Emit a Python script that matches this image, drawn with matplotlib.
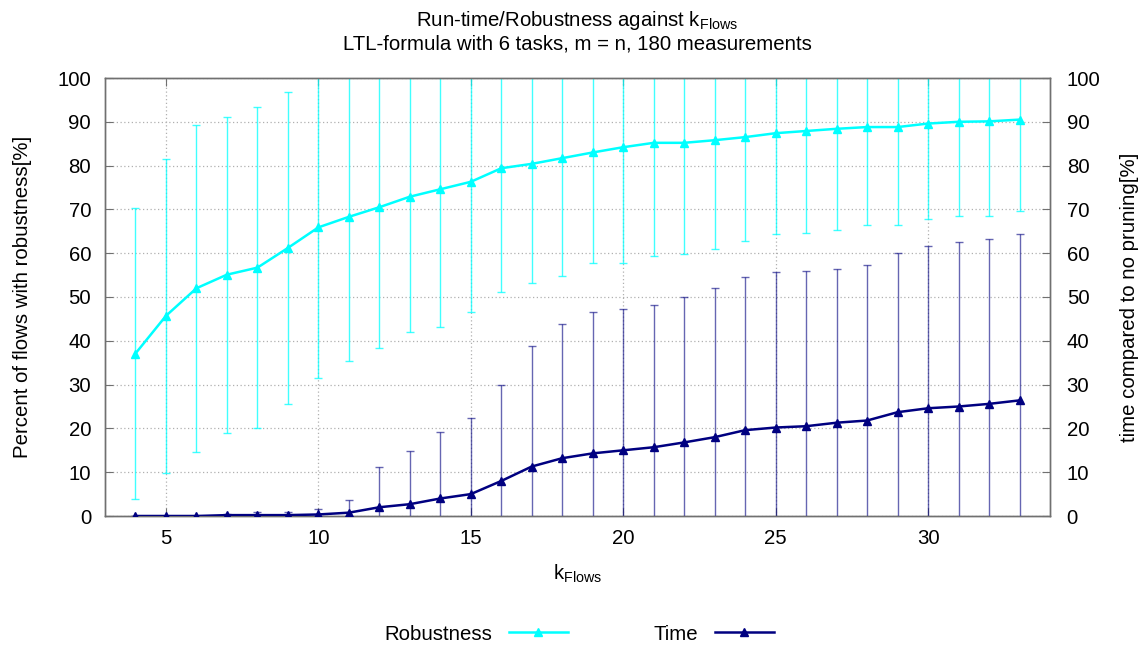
import numpy as np
import matplotlib
matplotlib.use("Agg")
import matplotlib.pyplot as plt

plt.rcParams["font.family"] = ["Liberation Sans", "DejaVu Sans"]
plt.rcParams["mathtext.fontset"] = "custom"
plt.rcParams["mathtext.rm"] = "Liberation Sans"
plt.rcParams["mathtext.it"] = "Liberation Sans:italic"

k_flows = list(range(4, 34))

robustness_mean = [37.1, 45.7, 52.0, 55.1, 56.7, 61.2, 65.9, 68.3, 70.5, 72.9,
                   74.6, 76.3, 79.4, 80.4, 81.7, 83.0, 84.2, 85.2, 85.2, 85.8,
                   86.5, 87.4, 87.9, 88.4, 88.8, 88.8, 89.6, 90.0, 90.1, 90.5]
robustness_std = [33.3, 35.8, 37.3, 36.1, 36.6, 35.6, 34.5, 32.9, 32.1, 31.0,
                  31.5, 29.8, 28.3, 27.3, 27.0, 25.3, 26.5, 25.8, 25.4, 24.9,
                  23.8, 23.0, 23.3, 23.2, 22.4, 22.4, 21.7, 21.5, 21.5, 20.8]

time_mean = [0.0, 0.0, 0.0, 0.2, 0.2, 0.2, 0.35, 0.76, 2.0, 2.7,
             4.0, 5.0, 8.0, 11.3, 13.2, 14.3, 15.0, 15.7, 16.8, 18.0,
             19.6, 20.2, 20.5, 21.3, 21.8, 23.7, 24.6, 25.0, 25.6, 26.4]
time_std = [0.1, 0.1, 0.1, 0.3, 0.6, 0.8, 1.2, 3.0, 9.3, 12.1,
            15.1, 17.3, 21.9, 27.6, 30.6, 32.2, 32.2, 32.5, 33.2, 34.0,
            35.0, 35.4, 35.4, 35.2, 35.5, 36.4, 37.1, 37.5, 37.6, 37.9]

rob_color = "#00ffff"
time_color = "#000080"

fig = plt.figure(figsize=(11.47, 6.46), dpi=100)
ax = fig.add_axes([105 / 1147, 1 - 516 / 646, 945 / 1147, 438 / 646])
ax2 = ax.twinx()

FS = 14.7

ax.errorbar(k_flows, robustness_mean, yerr=robustness_std, fmt="none",
            ecolor=rob_color, elinewidth=1.0, capsize=3, capthick=1.0,
            alpha=0.75, zorder=2)
rob_line, = ax.plot(k_flows, robustness_mean, color=rob_color, lw=1.8,
                    marker="^", markersize=5.5, zorder=3, label="Robustness")

ax2.errorbar(k_flows, time_mean, yerr=time_std, fmt="none",
             ecolor=time_color, elinewidth=1.0, capsize=3, capthick=1.0,
             alpha=0.6, zorder=2)
time_line, = ax2.plot(k_flows, time_mean, color=time_color, lw=1.8,
                      marker="^", markersize=5.5, zorder=3, label="Time")

for a in (ax, ax2):
    a.set_xlim(3, 34)
    a.set_ylim(0, 100)
    a.set_yticks(np.arange(0, 101, 10))
    for s in a.spines.values():
        s.set_color("#707070")
        s.set_linewidth(1.0)

ax.set_xticks([5, 10, 15, 20, 25, 30])
ax.tick_params(axis="x", direction="in", labelsize=FS, length=6,
               color="#707070", top=True, pad=9)
ax.tick_params(axis="y", direction="in", labelsize=FS, length=6,
               color="#707070", pad=10)
ax2.tick_params(axis="y", direction="in", labelsize=FS, length=6,
                color="#707070", pad=12)

ax.grid(True, color="#b0b0b0", linestyle=(0, (1, 2)), linewidth=0.9)
ax.set_axisbelow(True)

ax.set_xlabel(r"k$_{\mathrm{Flows}}$", fontsize=FS, labelpad=11)
ax.set_ylabel("Percent of flows with robustness[%]", fontsize=FS, labelpad=18)
ax2.set_ylabel("time compared to no pruning[%]", fontsize=FS, labelpad=14)

fig.text(0.5035, 1 - 9 / 646,
         "Run-time/Robustness against k$_{\\mathrm{Flows}}$\n"
         "LTL-formula with 6 tasks, m = n, 180 measurements",
         ha="center", va="top", fontsize=FS, linespacing=1.2)

fig.legend(handles=[rob_line, time_line], loc="center",
           bbox_to_anchor=(0.505, 1 - 634 / 646), ncol=2, frameon=False,
           markerfirst=False, fontsize=FS, handlelength=2.9,
           handletextpad=0.8, columnspacing=4.2, numpoints=1)

fig.savefig("out.png", dpi=100)
